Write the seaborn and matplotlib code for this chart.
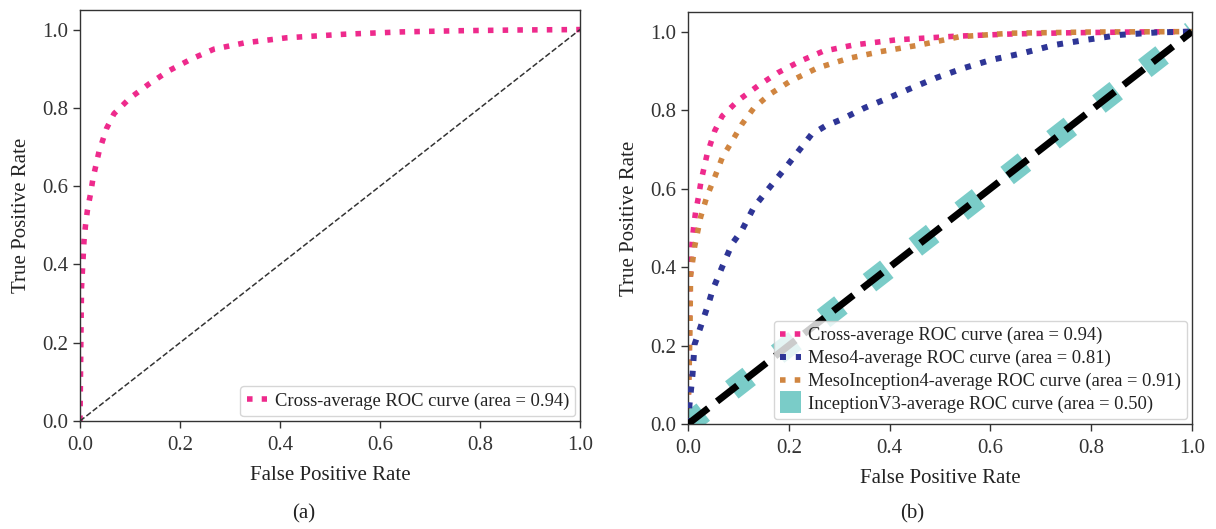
import numpy as np
import pandas as pd
import matplotlib
matplotlib.use("Agg")
import matplotlib.pyplot as plt
import seaborn as sns

# ---- data ----
cross_fpr = [0.0, 0.001, 0.002, 0.003, 0.008, 0.011, 0.015, 0.021, 0.026, 0.038, 0.053, 0.068,
             0.10, 0.139, 0.178, 0.223, 0.268, 0.329, 0.413, 0.527, 0.642, 0.756, 0.88, 1.0]
cross_tpr = [0.0, 0.12, 0.24, 0.34, 0.46, 0.50, 0.54, 0.58, 0.62, 0.688, 0.747, 0.785,
             0.825, 0.862, 0.895, 0.925, 0.950, 0.966, 0.979, 0.988, 0.994, 0.997, 0.999, 1.0]

meso4_fpr = [0.0, 0.003, 0.007, 0.009, 0.013, 0.023, 0.041, 0.049, 0.068, 0.088, 0.107, 0.131,
             0.162, 0.194, 0.225, 0.245, 0.272, 0.304, 0.351, 0.398, 0.445, 0.492, 0.547,
             0.602, 0.664, 0.727, 0.79, 0.86, 0.931, 1.0]
meso4_tpr = [0.0, 0.05, 0.10, 0.127, 0.203, 0.24, 0.308, 0.342, 0.401, 0.46, 0.494, 0.553,
             0.603, 0.654, 0.705, 0.738, 0.759, 0.776, 0.806, 0.831, 0.857, 0.882, 0.907,
             0.928, 0.945, 0.966, 0.979, 0.992, 0.998, 1.0]

mesoinc4_fpr = [0.0, 0.002, 0.004, 0.005, 0.013, 0.025, 0.037, 0.053, 0.068, 0.088, 0.107, 0.131,
                0.162, 0.202, 0.256, 0.319, 0.382, 0.46, 0.539, 0.641, 0.8, 1.0]
mesoinc4_tpr = [0.0, 0.12, 0.25, 0.376, 0.451, 0.527, 0.578, 0.629, 0.679, 0.722, 0.764, 0.806,
                0.840, 0.873, 0.907, 0.932, 0.949, 0.966, 0.987, 0.996, 0.999, 1.0]

incv3_fpr = [0.0, 1.0]
incv3_tpr = [0.0, 1.0]

chance = [0.0, 1.0]

labels = ["Cross-average ROC curve (area = 0.94)",
          "Meso4-average ROC curve (area = 0.81)",
          "MesoInception4-average ROC curve (area = 0.91)",
          "InceptionV3-average ROC curve (area = 0.50)"]
captions = ["(a)", "(b)"]

PINK = "#EE2A8C"
BLUE = "#2E3596"
ORANGE = "#D08540"
TEAL = "#7ACCC8"

sns.set_style("ticks")
plt.rcParams["font.family"] = ["Liberation Serif", "DejaVu Serif"]
plt.rcParams["axes.edgecolor"] = "#333333"
plt.rcParams["xtick.color"] = "#333333"
plt.rcParams["ytick.color"] = "#333333"
plt.rcParams["text.color"] = "#222222"
plt.rcParams["axes.labelcolor"] = "#222222"

fig = plt.figure(figsize=(12.16, 5.29), dpi=100)
ax1 = fig.add_axes([80 / 1216, 108 / 529, 500 / 1216, 411 / 529])
ax2 = fig.add_axes([688 / 1216, 105 / 529, 504 / 1216, 412 / 529])

TICKS = [0.0, 0.2, 0.4, 0.6, 0.8, 1.0]

def style(ax):
    ax.set_xlim(0, 1.0)
    ax.set_ylim(0, 1.05)
    ax.set_xticks(TICKS)
    ax.set_yticks(TICKS)
    ax.set_xticklabels([f"{t:.1f}" for t in TICKS])
    ax.set_yticklabels([f"{t:.1f}" for t in TICKS])
    ax.tick_params(labelsize=15, length=5, width=1)
    ax.tick_params(axis="x", pad=6)
    ax.set_xlabel("False Positive Rate", fontsize=15, labelpad=8)
    ax.set_ylabel("True Positive Rate", fontsize=15, labelpad=8)
    for s in ax.spines.values():
        s.set_visible(True)
        s.set_linewidth(1.0)

LEG = dict(loc="lower right", fontsize=13.3, frameon=True, handlelength=1.1,
           borderpad=0.35, handletextpad=0.4, labelspacing=0.3, borderaxespad=0.25)

# ---- panel (a) ----
sns.lineplot(x=cross_fpr, y=cross_tpr, ax=ax1, color=PINK, lw=4, linestyle=":",
             sort=False, estimator=None, label=labels[0])
sns.lineplot(x=chance, y=chance, ax=ax1, color="#333333", lw=1.1, linestyle="--",
             sort=False, estimator=None)
style(ax1)
leg1 = ax1.legend(**LEG)
leg1.get_frame().set_edgecolor("#cccccc")

# ---- panel (b) ----
sns.lineplot(x=cross_fpr, y=cross_tpr, ax=ax2, color=PINK, lw=4, linestyle=":",
             sort=False, estimator=None, label=labels[0])
sns.lineplot(x=meso4_fpr, y=meso4_tpr, ax=ax2, color=BLUE, lw=4.3, linestyle=":",
             sort=False, estimator=None, label=labels[1], zorder=3)
sns.lineplot(x=mesoinc4_fpr, y=mesoinc4_tpr, ax=ax2, color=ORANGE, lw=4, linestyle=":",
             sort=False, estimator=None, label=labels[2])
sns.lineplot(x=incv3_fpr, y=incv3_tpr, ax=ax2, color=TEAL, lw=15.8,
             linestyle=(0.12, (1, 1.65)),
             sort=False, estimator=None, label=labels[3])
sns.lineplot(x=chance, y=chance, ax=ax2, color="black", lw=5, linestyle="--",
             sort=False, estimator=None, zorder=4)
style(ax2)
leg2 = ax2.legend(**LEG)
leg2.get_frame().set_edgecolor("#cccccc")
h = leg2.legend_handles[3]
h.set_linestyle("-")
h.set_solid_capstyle("butt")

fig.text(0.25, 6 / 529, captions[0], ha="center", va="bottom", fontsize=15)
fig.text(0.75, 6 / 529, captions[1], ha="center", va="bottom", fontsize=15)

fig.savefig("out.png", dpi=100)
